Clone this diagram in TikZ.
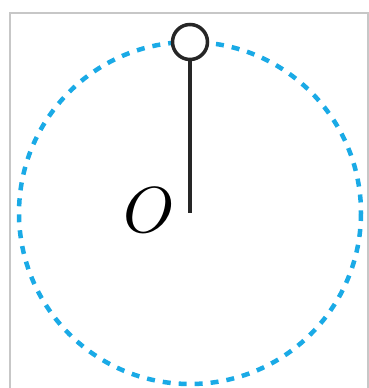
\documentclass[tikz,border=0pt]{standalone}
\begin{document}
\begin{tikzpicture}[x=1pt,y=-1pt,
  frameline/.style={draw=black!22,line width=1.5pt},
  orbit/.style={line width=4.5pt,dash pattern=on 8pt off 8pt},
  rod/.style={draw=black!85,line width=3.5pt},
  pivot/.style={circle,draw=black!85,line width=3.5pt,fill=white,minimum size=35pt,inner sep=0pt}]
\definecolor{orbitblue}{RGB}{26,170,230}
\useasboundingbox (0,0) rectangle (369,388);
\draw[frameline] (10,388) -- (10,13) -- (368,13) -- (368,388);
\coordinate (c) at (190,213);
\draw[orbit,draw=orbitblue] (c) circle[radius=171];
\node[pivot] (p) at (190,42) {};
\draw[rod] (p.south) -- (c);
\node[scale=6.5,inner sep=0pt] (o) at (149,210) {$O$};
\end{tikzpicture}
\end{document}
